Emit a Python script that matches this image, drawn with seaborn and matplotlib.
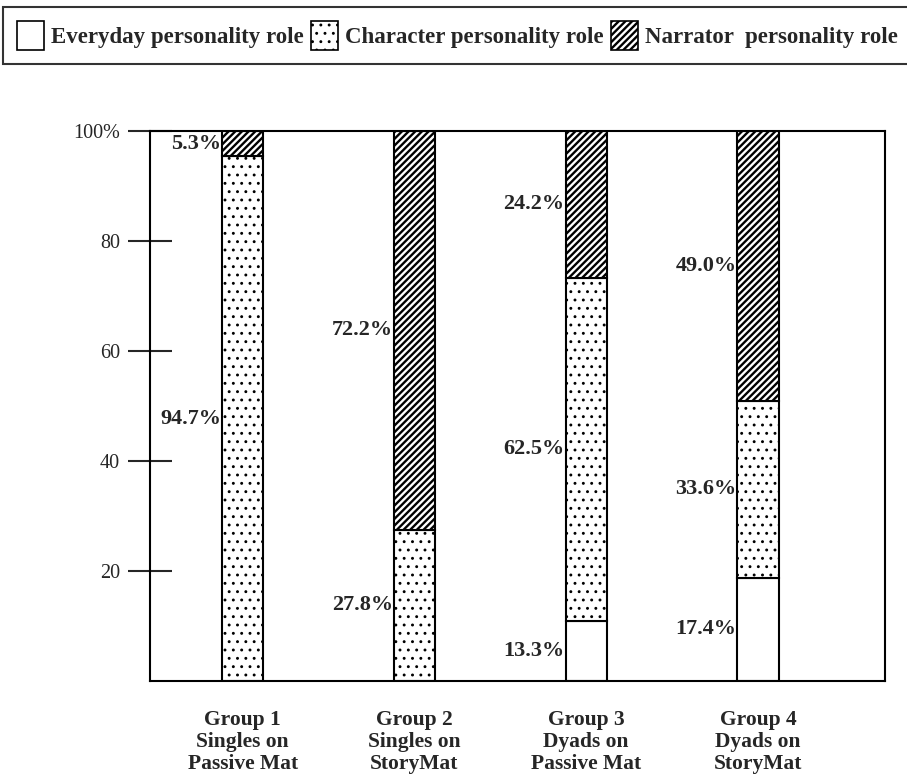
import numpy as np
import pandas as pd
import matplotlib
matplotlib.use("Agg")
import matplotlib.pyplot as plt
import seaborn as sns
from matplotlib.patches import Patch

# ---------- data (segment heights as drawn, percent labels as printed) ----------
groups = ["Group 1\nSingles on\nPassive Mat", "Group 2\nSingles on\nStoryMat",
          "Group 3\nDyads on\nPassive Mat", "Group 4\nDyads on\nStoryMat"]
everyday = [0.0, 0.0, 10.9, 18.8]
character = [95.4, 27.5, 62.4, 32.2]
narrator = [4.6, 72.5, 26.7, 49.0]

everyday_lbl = ["", "", "13.3%", "17.4%"]
character_lbl = ["94.7%", "27.8%", "62.5%", "33.6%"]
narrator_lbl = ["5.3%", "72.2%", "24.2%", "49.0%"]

roles = ["Everyday personality role", "Character personality role",
         "Narrator  personality role"]

sns.set_style("white")
plt.rcParams["font.family"] = ["Liberation Serif", "DejaVu Serif"]
plt.rcParams["hatch.color"] = "black"

cols = ["everyday", "character", "narrator"]
hatches = {"everyday": ("", 1.0), "character": ("..", 0.9),
           "narrator": ("/////", 1.7)}


def set_hlw(artist, lw):
    # per-artist hatch width where matplotlib supports it
    if hasattr(artist, "set_hatch_linewidth"):
        artist.set_hatch_linewidth(lw)


fig = plt.figure(figsize=(9.07, 7.82), dpi=100)
ax = fig.add_axes([150 / 907, 1 - 681 / 782, 735 / 907, 550 / 782])

df = pd.DataFrame({"group": groups, "everyday": everyday,
                   "character": character, "narrator": narrator})
bar_w = 0.24
bottom = np.zeros(len(groups))
labels = {"everyday": everyday_lbl, "character": character_lbl,
          "narrator": narrator_lbl}
for col in cols:
    hatch, hlw = hatches[col]
    n_before = len(ax.patches)
    with plt.rc_context({"hatch.linewidth": hlw}):
        sns.barplot(data=df, x="group", y=col, bottom=bottom, color="white",
                    edgecolor="black", linewidth=1.5, hatch=hatch, width=bar_w,
                    saturation=1, ax=ax)
    for p in ax.patches[n_before:]:
        set_hlw(p, hlw)
    vals = df[col].to_numpy()
    for i, (v, t) in enumerate(zip(vals, labels[col])):
        if t:
            ax.text(i - bar_w / 2 - 0.005, bottom[i] + v / 2, t, ha="right",
                    va="center", fontsize=16, fontweight="bold")
    bottom = bottom + vals

ax.set_xlim(-0.54, 3.74)
ax.set_ylim(0, 100)
ax.set_yticks([20, 40, 60, 80, 100])
ax.set_yticklabels(["20", "40", "60", "80", "100%"], fontsize=14.5)
ax.tick_params(axis="y", direction="inout", length=31, width=1.5, pad=6,
               left=True)
ax.tick_params(axis="x", length=0, pad=21)
for lab in ax.get_xticklabels():
    lab.set_fontsize(15.5)
    lab.set_fontweight("bold")
    lab.set_linespacing(1.12)
ax.set_xlabel("")
ax.set_ylabel("")
for s in ax.spines.values():
    s.set_visible(True)
    s.set_color("black")
    s.set_linewidth(1.5)

handles = []
for col in cols:
    hatch, hlw = hatches[col]
    with plt.rc_context({"hatch.linewidth": hlw}):
        h = Patch(facecolor="white", edgecolor="black", hatch=hatch,
                  linewidth=1.2)
    set_hlw(h, hlw)
    handles.append(h)

leg = fig.legend(handles, roles, loc="upper left",
                 bbox_to_anchor=(3 / 907, 1 - 7 / 782), ncol=3,
                 prop={"weight": "bold", "size": 16.5}, frameon=True,
                 fancybox=False, edgecolor="black", handlelength=1.2,
                 handleheight=1.6, handletextpad=0.3, columnspacing=0.3,
                 borderpad=0.6, borderaxespad=0)
leg.get_frame().set_linewidth(1.5)
for h, col in zip(leg.legend_handles, cols):
    set_hlw(h, hatches[col][1])

fig.savefig("out.png", dpi=100)
